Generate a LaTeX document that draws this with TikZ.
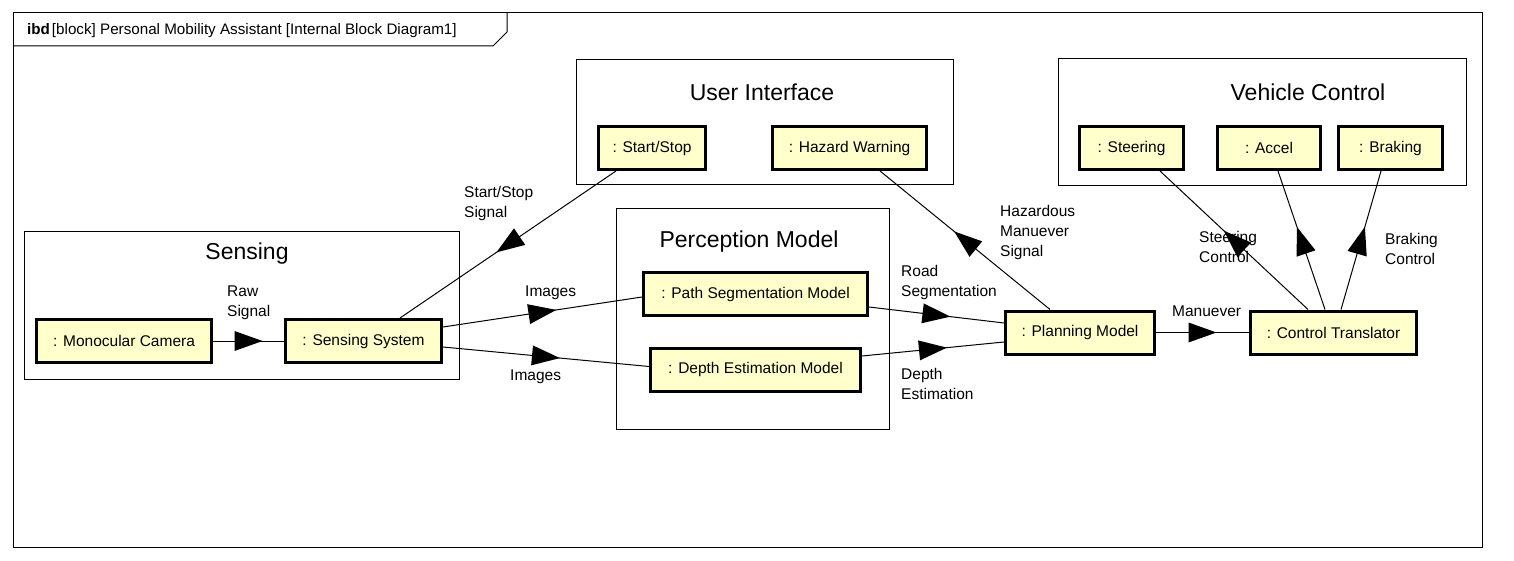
\documentclass[tikz,border=0pt]{standalone}
\usepackage{fontspec}
\setmainfont{Liberation Sans}
\usetikzlibrary{decorations.markings}
\definecolor{partfill}{RGB}{255,255,204}

\begin{document}
\begin{tikzpicture}[x=1pt,y=-1pt,
    part/.style={draw, line width=3pt, fill=partfill, minimum height=43pt, inner sep=0pt, font=\fontsize{15.5}{20}\selectfont},
    group/.style={draw, line width=1pt, inner sep=0pt},
    grouptitle/.style={font=\fontsize{23}{28}\selectfont, inner sep=0pt},
    flowlabel/.style={font=\fontsize{15.5}{20}\selectfont, align=left, anchor=west, inner sep=0pt},
    flow/.style={line width=1pt, postaction={decorate},
        decoration={markings, mark=at position 0.5 with {\fill (-14pt,-10pt) -- (14pt,0pt) -- (-14pt,10pt) -- cycle;}}}]
    \fill[white] (0,0) rectangle (1514,561);
    \useasboundingbox (0,0) rectangle (1514,561);

    % diagram frame
    \draw[line width=1pt] (13,13) rectangle (1482,547);
    \draw[line width=1pt] (13,46) -- (493,46) -- (507,32) -- (507,13);
    \node[anchor=west, inner sep=0pt, font=\fontsize{15.2}{18}\selectfont] (frametitle) at (27,31)
        {\textbf{ibd}\hspace{2pt}[block] Personal Mobility Assistant [Internal Block Diagram1]};

    % groups
    \node[group, minimum width=435pt, minimum height=147pt] (sensing) at (241.5,305.5) {};
    \node[grouptitle] (sensingtitle) at (247,254) {Sensing};
    \node[group, minimum width=377pt, minimum height=125pt] (ui) at (764.5,122.5) {};
    \node[grouptitle] (uititle) at (762,92) {User Interface};
    \node[group, minimum width=273pt, minimum height=220pt] (perception) at (752.5,319) {};
    \node[grouptitle] (perceptiontitle) at (749,242) {Perception Model};
    \node[group, minimum width=408pt, minimum height=127pt] (vehicle) at (1262,122.5) {};
    \node[grouptitle] (vehicletitle) at (1308,92) {Vehicle Control};

    % parts
    \node[part, minimum width=175pt] (camera) at (124,341) {: Monocular Camera};
    \node[part, minimum width=156pt] (sensys) at (363.5,341) {: Sensing System};
    \node[part, minimum width=107pt] (startstop) at (652,148) {: Start/Stop};
    \node[part, minimum width=154pt] (hazard) at (849.5,148) {: Hazard Warning};
    \node[part, minimum width=224pt] (pathseg) at (755.5,294) {: Path Segmentation Model};
    \node[part, minimum width=210pt] (depth) at (755.5,369.5) {: Depth Estimation Model};
    \node[part, minimum width=149pt] (planning) at (1080,332.5) {: Planning Model};
    \node[part, minimum width=166pt] (translator) at (1333.5,332.5) {: Control Translator};
    \node[part, minimum width=104pt] (steering) at (1131.5,148) {: Steering};
    \node[part, minimum width=103pt] (accel) at (1269,148) {: Accel};
    \node[part, minimum width=104pt] (braking) at (1390.5,148) {: Braking};

    % connectors
    \draw[flow] (camera.east) -- (sensys.west);
    \draw[flow] ([xshift=-36pt]startstop.south) -- ([xshift=36.5pt]sensys.north);
    \draw[flow] ([yshift=14pt]sensys.east) -- ([yshift=-3pt]pathseg.west);
    \draw[flow] ([yshift=-6pt]sensys.east) -- ([yshift=3pt]depth.west);
    \draw[flow] ([yshift=-13pt]pathseg.east) -- ([yshift=9.5pt]planning.west);
    \draw[flow] ([yshift=13.5pt]depth.east) -- ([yshift=-9.5pt]planning.west);
    \draw[flow] ([xshift=-30pt]planning.north) -- ([xshift=30.5pt]hazard.south);
    \draw[flow] (planning.east) -- (translator.west);
    \draw[flow] ([xshift=-25.5pt]translator.north) -- ([xshift=28.5pt]steering.south);
    \draw[flow] ([xshift=-8.5pt]translator.north) -- ([xshift=9pt]accel.south);
    \draw[flow] ([xshift=7.5pt]translator.north) -- ([xshift=-9.5pt]braking.south);

    % connector labels
    \node[flowlabel] (rawlbl) at (227,303) {Raw\\Signal};
    \node[flowlabel] (startlbl) at (464,203) {Start/Stop\\Signal};
    \node[flowlabel] (img1lbl) at (525,293) {Images};
    \node[flowlabel] (img2lbl) at (510,377) {Images};
    \node[flowlabel] (roadlbl) at (901,282) {Road\\Segmentation};
    \node[flowlabel] (depthlbl) at (901,384) {Depth\\Estimation};
    \node[flowlabel] (hazlbl) at (1000,232) {Hazardous\\Manuever\\Signal};
    \node[flowlabel] (manlbl) at (1172,311) {Manuever};
    \node[flowlabel] (steerlbl) at (1199,247) {Steering\\Control};
    \node[flowlabel] (brakelbl) at (1385,248.5) {Braking\\Control};
\end{tikzpicture}
\end{document}
